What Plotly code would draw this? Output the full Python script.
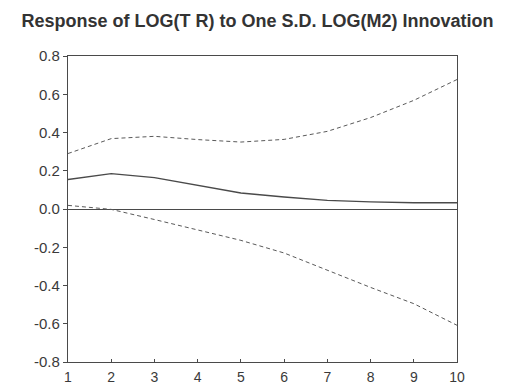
import plotly.graph_objects as go

# Impulse response horizon (periods)
periods = [1, 2, 3, 4, 5, 6, 7, 8, 9, 10]

# Response of LOG(TR) to a one S.D. LOG(M2) shock, with +/- 2 S.E. bands
response = [0.154, 0.185, 0.164, 0.124, 0.084, 0.063, 0.045, 0.037, 0.033, 0.033]
upper_band = [0.290, 0.368, 0.380, 0.363, 0.350, 0.364, 0.406, 0.478, 0.568, 0.677]
lower_band = [0.019, -0.002, -0.055, -0.110, -0.164, -0.230, -0.320, -0.410, -0.495, -0.608]

y_ticks = [0.8, 0.6, 0.4, 0.2, 0.0, -0.2, -0.4, -0.6, -0.8]
y_tick_text = ["0.8", "0.6", "0.4", "0.2", "0.0", "-0.2", "-0.4", "-0.6", "-0.8"]

line_col = "#4a4a4a"
text_col = "#3a3a3a"

fig = go.Figure()
fig.add_trace(go.Scatter(x=periods, y=upper_band, mode="lines",
                         line=dict(color="#5a5a5a", width=1, dash="4px,3px")))
fig.add_trace(go.Scatter(x=periods, y=response, mode="lines",
                         line=dict(color=line_col, width=1.4)))
fig.add_trace(go.Scatter(x=periods, y=lower_band, mode="lines",
                         line=dict(color="#5a5a5a", width=1, dash="4px,3px")))

fig.update_layout(
    width=508, height=387,
    margin=dict(l=68, r=51, t=56, b=25),
    paper_bgcolor="white", plot_bgcolor="white",
    showlegend=False,
    font=dict(family="Liberation Sans, Arial, sans-serif", color=text_col),
    title=dict(text="<b>Response of LOG(T R) to One S.D. LOG(M2) Innovation</b>",
               x=0.507, xanchor="center", y=0.946, yanchor="middle",
               font=dict(size=18, color="#333333")),
)
fig.update_xaxes(
    range=[1, 10], tickmode="array", tickvals=periods,
    ticks="inside", ticklen=3, tickcolor=line_col,
    showline=True, linecolor=line_col, linewidth=1.2, mirror=True,
    showgrid=False, zeroline=False, ticklabelstandoff=2, automargin=False,
    tickfont=dict(size=14, color=text_col),
)
fig.update_yaxes(
    range=[-0.8, 0.8], tickmode="array", tickvals=y_ticks, ticktext=y_tick_text,
    ticks="outside", ticklen=4, tickcolor=line_col,
    showline=True, linecolor=line_col, linewidth=1.2, mirror=True,
    showgrid=False, zeroline=True, zerolinecolor=line_col, zerolinewidth=1.2,
    automargin=False,
    tickfont=dict(size=15, color=text_col),
)

fig.write_html("out.html")
